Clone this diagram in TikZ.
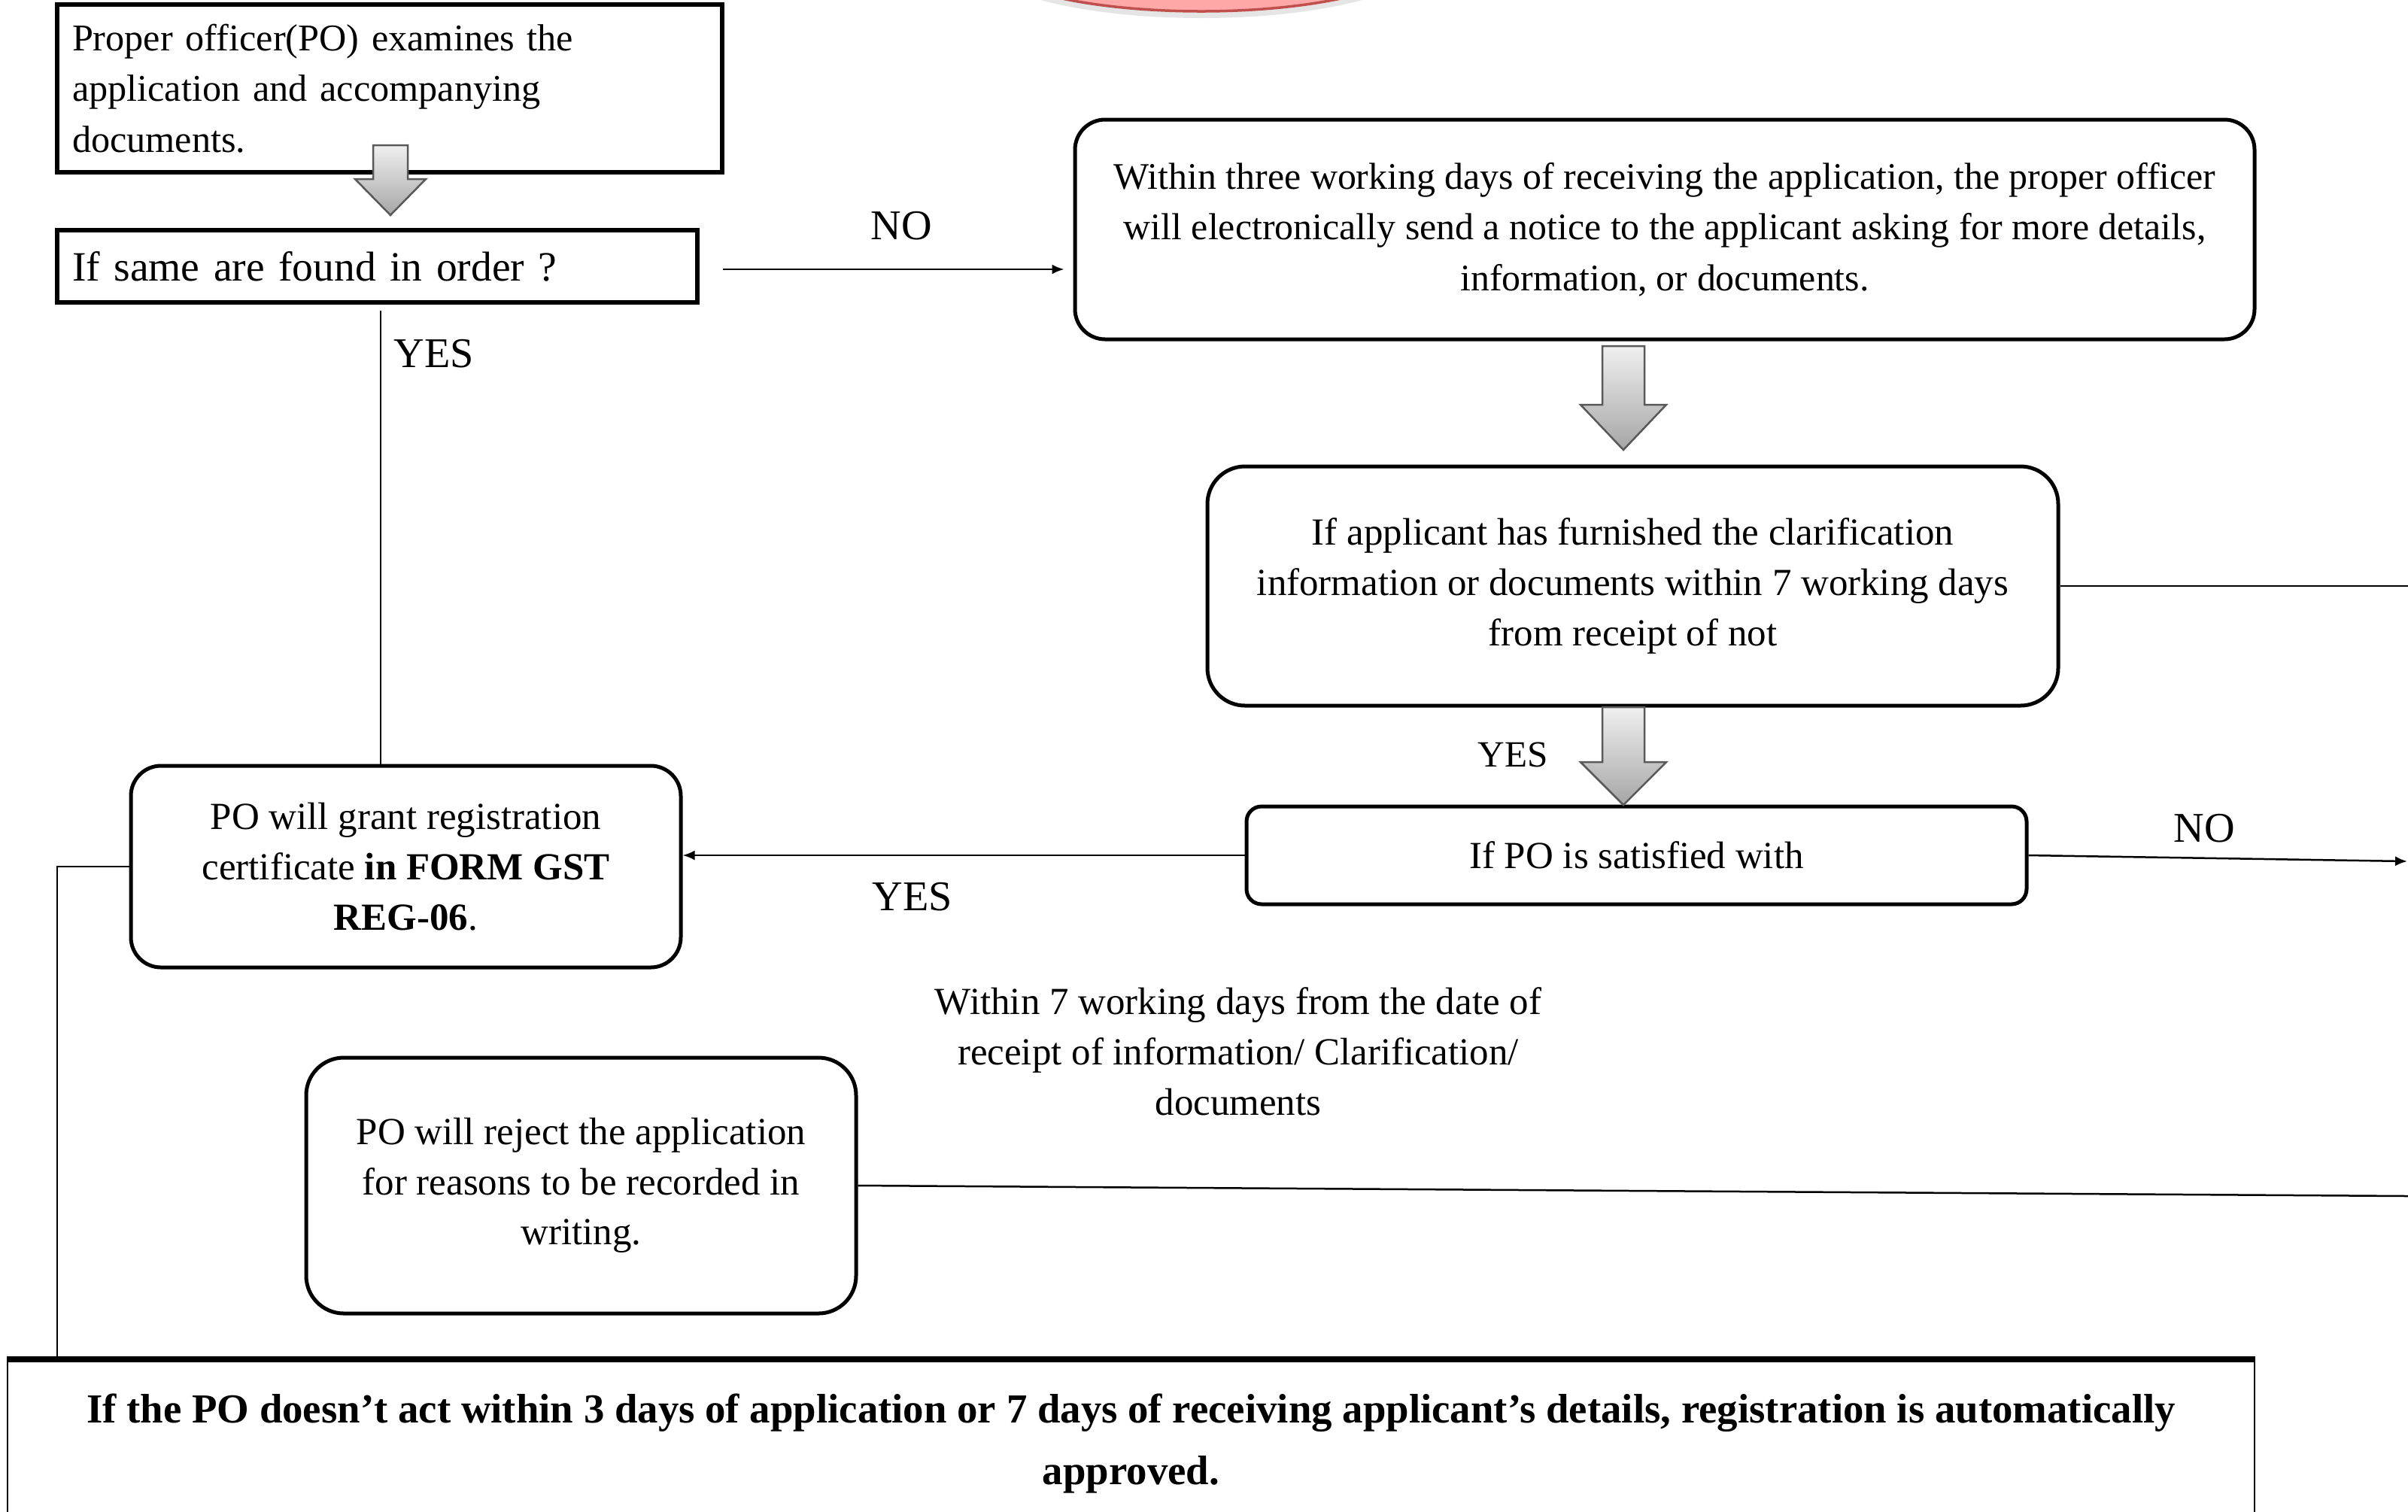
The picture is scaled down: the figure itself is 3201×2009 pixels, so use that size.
\documentclass[tikz,border=0pt]{standalone}
\usepackage{fontspec}
\setmainfont{Liberation Serif}
\usetikzlibrary{arrows.meta,shapes.geometric}
\definecolor{startfill}{HTML}{FFA8A8}
\definecolor{startdraw}{HTML}{C0504D}
\newcommand{\blockarr}[6]{%
  \draw[line width=0.25mm, draw=black!65, top color=black!6, bottom color=black!35]
    ({#1-#5},#2) -- ({#1+#5},#2) -- ({#1+#5},#3) -- ({#1+#6},#3) -- (#1,#4)
    -- ({#1-#6},#3) -- ({#1-#5},#3) -- cycle;}
\begin{document}
\begin{tikzpicture}[x=0.1mm,y=-0.1mm,
  sq/.style={draw, line width=0.55mm, rectangle, inner sep=0pt},
  rbox/.style={draw, line width=0.5mm, rounded corners=#1, inner sep=0pt,
    align=center, font=\fontsize{14.5pt}{19pt}\selectfont},
  rbox/.default=4mm,
  conn/.style={line width=0.25mm},
  arr/.style={conn, -{Latex[length=1.6mm,width=1.3mm]}},
  lbl/.style={inner sep=0pt, font=\fontsize{16pt}{19pt}\selectfont},
  plain/.style={inner sep=0pt, align=center, font=\fontsize{14.5pt}{19pt}\selectfont}]
\clip (0,0) rectangle (3201,2009);
\fill[white] (0,0) rectangle (3201,2009);

% start ellipse (cut off at top)
\fill[black!10] (1597,-54) ellipse (29.6mm and 7.8mm);
\node[ellipse, draw=startdraw, fill=startfill, line width=0.35mm,
  minimum width=58.4mm, minimum height=15mm, inner sep=0pt] (start) at (1597,-60) {};

% boxes
\node[sq, minimum width=88.4mm, minimum height=22.3mm, text width=84.4mm,
  inner xsep=2mm, align=left, font=\fontsize{14.3pt}{19.2pt}\selectfont]
  (b1) at (518,117.5) {Proper officer(PO) examines the\\application and accompanying\\documents.};
\node[sq, minimum width=85.1mm, minimum height=9.6mm, text width=81.1mm,
  inner xsep=2mm, align=left, font=\fontsize{15.8pt}{20pt}\selectfont]
  (b2) at (501.5,354) {If same are found in order ?};
\node[rbox=4mm, minimum width=156.8mm, minimum height=29.2mm,
  font=\fontsize{14.2pt}{19.2pt}\selectfont] (b3) at (2213,305)
  {Within three working days of receiving the application, the proper officer\\will electronically send a notice to the applicant asking for more details,\\information, or documents.};
\node[rbox=5mm, minimum width=113.1mm, minimum height=31.8mm] (b4) at (2170.5,779)
  {If applicant has furnished the clarification\\information or documents within 7 working days\\from receipt of not};
\node[rbox=2mm, minimum width=103.7mm, minimum height=13mm] (b5) at (2175.5,1137)
  {If PO is satisfied with};
\node[rbox=4mm, minimum width=73.1mm, minimum height=26.8mm] (b6) at (539.5,1152)
  {PO will grant registration\\certificate \textbf{in FORM GST}\\\textbf{REG-06}.};
\node[rbox=5mm, minimum width=73.1mm, minimum height=34mm] (b7) at (772.5,1576)
  {PO will reject the application\\for reasons to be recorded in\\writing.};
\node[draw, line width=0.25mm, minimum width=298.7mm, minimum height=22.2mm,
  inner sep=0pt, align=center, font=\bfseries\fontsize{15.6pt}{23.5pt}\selectfont]
  (b8) at (1503.5,1919)
  {If the PO doesn't act within 3 days of application or 7 days of receiving applicant's details, registration is automatically\\approved.};
\draw[line width=0.8mm] (b8.north west) -- (b8.north east);

\node[plain] (w7) at (1646,1398)
  {Within 7 working days from the date of\\receipt of information/ Clarification/\\documents};

% block arrows
\blockarr{519}{193}{238}{286}{23}{47}
\blockarr{2158}{460}{538}{598}{28}{57}
\blockarr{2158}{940}{1013}{1070}{28}{57}

% connectors
\coordinate (yesTop) at (506,413);
\draw[conn] (yesTop) -- (yesTop |- b6.north);
\node[lbl] (yes1) at (577,470) {YES};

\coordinate (noStart) at (961,358);
\draw[arr] (noStart) -- ([xshift=-1.2mm]noStart -| b3.west);
\node[lbl] (no1) at (1198,300) {NO};

\coordinate (r1) at (3201,779);
\draw[conn] (b4.east) -- (r1);

\node[lbl, font=\fontsize{14pt}{17pt}\selectfont] (yes2) at (2011,1003) {YES};

\draw[arr] (b5.west) -- (b5.west -| b6.east);
\node[lbl] (yes3) at (1213,1192) {YES};

\coordinate (r2) at (3200,1145);
\draw[arr] (b5.east) -- (r2);
\node[lbl] (no2) at (2930,1101) {NO};

\coordinate (lc) at (76,1152);
\draw[conn] (b6.west) -- (lc) -- (lc |- b8.north);

\coordinate (r3) at (3201,1590);
\draw[conn] (b7.east) -- (r3);
\end{tikzpicture}
\end{document}
